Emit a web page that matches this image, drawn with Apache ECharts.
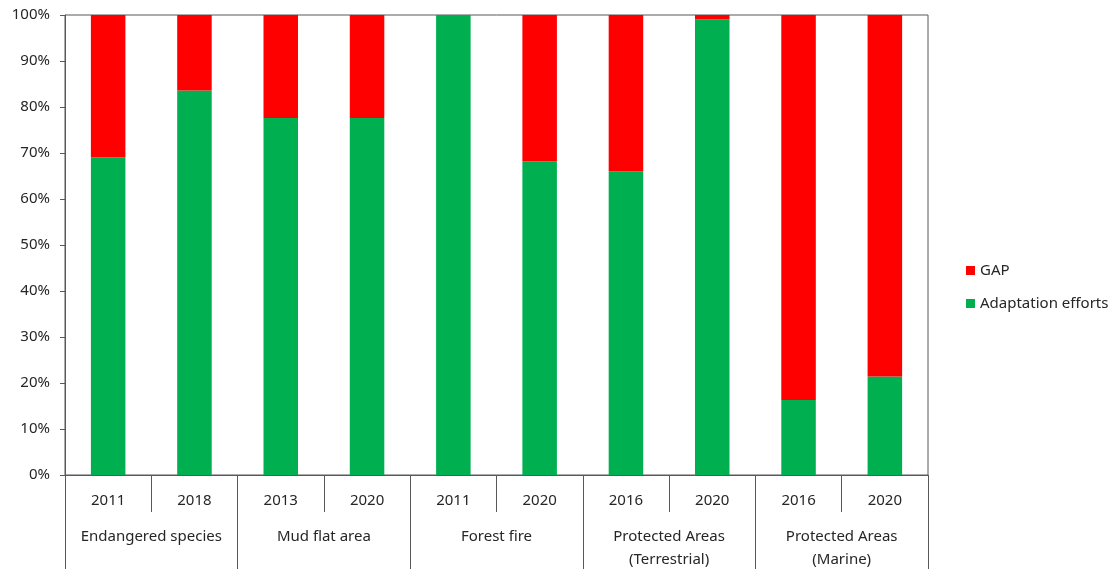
<!DOCTYPE html>
<html>
<head>
<meta charset="utf-8">
<script src="https://cdn.jsdelivr.net/npm/echarts@6/dist/echarts.min.js"></script>
<style>
	html, body { margin: 0; padding: 0; background: #fff; }
	#chart { width: 1117px; height: 569px; }
</style>
</head>
<body>
<div id="chart"></div>
<script>
	// data (percent)
	var years = [ "2011", "2018", "2013", "2020", "2011", "2020", "2016", "2020", "2016", "2020" ];
	var groups = [ "Endangered species", "Mud flat area", "Forest fire", "Protected Areas\n(Terrestrial)",
			"Protected Areas\n(Marine)" ];
	var adaptation = [ 69.1, 83.6, 77.6, 77.6, 100, 68.2, 66.0, 99.1, 16.3, 21.4 ];
	var gap = [ 30.9, 16.4, 22.4, 22.4, 0, 31.8, 34.0, 0.9, 83.7, 78.6 ];
	var yTicks = [ 0, 10, 20, 30, 40, 50, 60, 70, 80, 90, 100 ];

	var lineColor = "#595959";
	var textColor = "#262626";
	var font = "Noto Sans";

	var chart = echarts.init(document.getElementById("chart"), null, { renderer : "canvas" });

	chart.setOption({
		animation : false,
		textStyle : {
			fontFamily : font
		},
		grid : {
			left : 65,
			right : 189,
			top : 15,
			bottom : 94,
			outerBoundsMode : "none",
			containLabel : false,
			show : true,
			borderColor : lineColor,
			borderWidth : 1
		},
		legend : {
			orient : "vertical",
			left : 961,
			top : 258,
			itemWidth : 9,
			itemHeight : 9,
			itemGap : 18,
			icon : "rect",
			data : [ "GAP", "Adaptation efforts" ],
			textStyle : {
				fontSize : 15,
				lineHeight : 15,
				color : textColor,
				fontFamily : font
			}
		},
		xAxis : [ {
			type : "category",
			data : years,
			position : "bottom",
			axisLine : {
				lineStyle : {
					color : lineColor
				}
			},
			axisTick : {
				show : true,
				interval : 0,
				length : 37,
				lineStyle : {
					color : lineColor
				}
			},
			axisLabel : {
				interval : 0,
				margin : 17,
				fontSize : 15,
				lineHeight : 18,
				color : textColor
			}
		}, {
			type : "category",
			data : groups,
			position : "bottom",
			axisLine : {
				show : false
			},
			axisTick : {
				show : true,
				interval : 0,
				length : 95,
				lineStyle : {
					color : lineColor
				}
			},
			axisLabel : {
				interval : 0,
				margin : 50,
				fontSize : 15,
				lineHeight : 23,
				color : textColor
			}
		} ],
		yAxis : {
			type : "value",
			min : yTicks[0],
			max : yTicks[yTicks.length - 1],
			interval : 10,
			splitLine : {
				show : false
			},
			axisLine : {
				show : true,
				lineStyle : {
					color : lineColor
				}
			},
			axisTick : {
				show : true,
				length : 5,
				lineStyle : {
					color : lineColor
				}
			},
			axisLabel : {
				margin : 15,
				fontSize : 15,
				color : textColor,
				formatter : "{value}%"
			}
		},
		series : [ {
			name : "Adaptation efforts",
			type : "bar",
			stack : "total",
			xAxisIndex : 0,
			barWidth : "40%",
			data : adaptation,
			itemStyle : {
				color : "#00B050"
			}
		}, {
			name : "GAP",
			type : "bar",
			stack : "total",
			xAxisIndex : 0,
			barWidth : "40%",
			data : gap,
			itemStyle : {
				color : "#FF0000"
			}
		} ]
	});
</script>
</body>
</html>
